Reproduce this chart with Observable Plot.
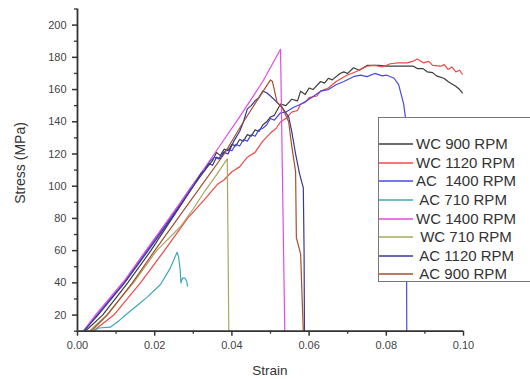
<!DOCTYPE html>
<html>
<head>
<meta charset="utf-8">
<script src="https://cdn.jsdelivr.net/npm/d3@7"></script>
<script src="https://cdn.jsdelivr.net/npm/@observablehq/plot@0.6"></script>
<style>
  html, body { margin: 0; padding: 0; background: #fff; overflow: hidden; }
  #wrap { position: relative; width: 530px; height: 379px; font-family: "Liberation Sans", Arial, sans-serif; }
  .lab { position: absolute; color: #333; white-space: nowrap; }
  #legend { position: absolute; left: 378px; top: 117px; width: 170px; height: 165px; border: 1.5px solid #777; background: #fff; box-sizing: border-box; }
  #legend svg { position: absolute; left: 0; top: 0; }
  #legend .tx { position: absolute; left: 37px; font-size: 15px; color: #333; white-space: pre; line-height: 18px; }
</style>
</head>
<body>
<div id="wrap"></div>
<script>
// ---- data ----
const seriesNames = ["WC 900 RPM", "WC 1120 RPM", "AC  1400 RPM", " AC 710 RPM", "WC 1400 RPM", " WC 710 RPM", " AC 1120 RPM", " AC 900 RPM"];
const seriesColors = ["#3c3c3c", "#f04848", "#4848e8", "#3aa8b8", "#e04ee0", "#a8a860", "#38389a", "#a4502e"];

const wc900 = [[0.002,10],[0.0065,20],[0.013,40],[0.019,60],[0.0245,80],[0.030,100],[0.033,110],[0.035,116],[0.036,121],[0.037,119],[0.038,123],[0.039,122],[0.040,126],[0.041,125],[0.042,129],[0.043,128],[0.044,132],[0.045,131],[0.046,135],[0.047,134],[0.048,138],[0.049,140],[0.050,143],[0.051,144],[0.0526,151],[0.054,150],[0.0555,154],[0.057,153],[0.0578,159],[0.059,157],[0.060,161],[0.061,160],[0.063,165],[0.064,164],[0.065,167],[0.066,166],[0.068,170],[0.069,171],[0.070,170],[0.0715,173.5],[0.073,172],[0.075,175],[0.078,175],[0.080,174.5],[0.083,174.5],[0.087,174.5],[0.088,173],[0.0895,173],[0.0906,171],[0.092,170.5],[0.093,168.5],[0.0949,167],[0.096,165],[0.097,163.5],[0.098,162],[0.099,160],[0.0997,158]];
const wc1120 = [[0.004,10],[0.0094,20],[0.0163,40],[0.0225,60],[0.0285,80],[0.033,92],[0.0362,101],[0.038,104],[0.040,109],[0.042,112],[0.044,118],[0.046,121],[0.048,128],[0.050,133],[0.0515,136],[0.0526,140],[0.054,142],[0.0555,146],[0.057,147],[0.0578,151],[0.059,152],[0.060,155],[0.062,156],[0.063,159],[0.065,161],[0.067,165],[0.0699,169],[0.071,170],[0.073,172],[0.075,174.5],[0.077,175],[0.079,174],[0.081,176],[0.083,176.5],[0.0854,176.6],[0.087,177.6],[0.088,179],[0.0896,176.6],[0.091,177.5],[0.092,175],[0.094,174.5],[0.095,175.5],[0.096,172.5],[0.097,174],[0.098,171],[0.099,172],[0.0997,169.5]];
const ac1400 = [[0.0016,10],[0.005,20],[0.012,40],[0.018,60],[0.024,80],[0.029,98],[0.032,108],[0.0345,116],[0.0355,118],[0.0365,117],[0.0378,121],[0.039,123],[0.040,122],[0.041,126],[0.042,125],[0.043,129],[0.044,128],[0.045,132],[0.046,131],[0.047,135],[0.048,136],[0.049,138],[0.050,142],[0.051,141],[0.0526,145.6],[0.054,146],[0.056,149],[0.058,151],[0.060,154],[0.063,159],[0.065,160],[0.067,163],[0.069,165],[0.0715,168],[0.0733,169],[0.075,168],[0.077,170],[0.079,168.5],[0.080,169],[0.082,167],[0.0832,163],[0.0845,151],[0.085,142],[0.0852,100],[0.0853,10]];
const ac710 = [[0.004,10],[0.0055,12],[0.0085,12.5],[0.011,17],[0.0129,21],[0.016,27],[0.018,31],[0.0215,39],[0.024,49],[0.0258,59],[0.0262,56],[0.0266,48],[0.0268,40],[0.0272,43],[0.0278,43],[0.0283,41],[0.0285,38]];
const wc1400 = [[0.0015,10],[0.005,21],[0.012,41],[0.018,61],[0.024,81],[0.030,101],[0.0323,109],[0.036,122],[0.042,143],[0.048,165],[0.0526,185],[0.0537,10]];
const wc710 = [[0.003,10],[0.0075,20],[0.0145,40],[0.0205,60],[0.0267,75],[0.030,86],[0.033,97],[0.036,107],[0.0388,117],[0.0392,10]];
const ac1120 = [[0.0016,10],[0.0053,20],[0.0122,40],[0.0183,60],[0.0243,80],[0.030,100],[0.0319,107.6],[0.033,110],[0.034,114],[0.035,113],[0.036,118],[0.037,117],[0.038,121],[0.039,120],[0.0405,128],[0.042,134],[0.043,140],[0.044,148],[0.045,150],[0.046,153],[0.047,155],[0.048,159],[0.049,158],[0.050,156],[0.0517,152],[0.053,149],[0.0547,143],[0.0555,134],[0.0565,120],[0.0575,108],[0.0585,99],[0.0587,60],[0.0588,10]];
const ac900 = [[0.0035,10],[0.0077,20],[0.0142,40],[0.020,60],[0.026,80],[0.032,100],[0.038,120],[0.043,140],[0.047,155],[0.050,166],[0.0505,165],[0.0517,152],[0.053,149],[0.0547,140],[0.0555,125],[0.0565,109],[0.0567,68],[0.0578,58],[0.0585,10]];

const seriesPoints = [wc900, wc1120, ac1400, ac710, wc1400, wc710, ac1120, ac900];

const xMajor = [0, 0.02, 0.04, 0.06, 0.08, 0.10];
const xMinor = [0.01, 0.03, 0.05, 0.07, 0.09];
const yMajor = [20, 40, 60, 80, 100, 120, 140, 160, 180, 200];
const yMinor = [10, 30, 50, 70, 90, 110, 130, 150, 170, 190, 210];

// ---- build ----
const rows = [];
seriesNames.forEach((n, i) => seriesPoints[i].forEach(([x, y]) => rows.push({name: n, x, y})));

const chart = Plot.plot({
  width: 530,
  height: 379,
  marginLeft: 77,
  marginRight: 67,
  marginTop: 8.5,
  marginBottom: 48.3,
  style: {fontFamily: "'Liberation Sans', Arial, sans-serif", fontSize: "11px", color: "#444", background: "transparent"},
  x: {domain: [0, 0.1]},
  y: {domain: [10, 210]},
  color: {domain: seriesNames, range: seriesColors},
  marks: [
    Plot.line(rows, {x: "x", y: "y", z: "name", stroke: "name", strokeWidth: 1.2}),
    Plot.axisX({ticks: xMajor, tickSize: 5, tickPadding: 5, tickFormat: d3.format(".2f"), label: null, strokeWidth: 1.5, stroke: "#333"}),
    Plot.axisX({ticks: xMinor, tickSize: 3, tickFormat: () => "", label: null, strokeWidth: 1.3, stroke: "#333"}),
    Plot.axisY({ticks: yMajor, tickSize: 5, tickPadding: 6, label: null, strokeWidth: 1.5, stroke: "#333"}),
    Plot.axisY({ticks: yMinor, tickSize: 3, tickFormat: () => "", label: null, strokeWidth: 1.3, stroke: "#333"}),
    Plot.ruleX([0], {stroke: "#333", strokeWidth: 1.8}),
    Plot.ruleY([10], {stroke: "#333", strokeWidth: 1.8})
  ]
});

const wrap = document.getElementById("wrap");
chart.style.position = "absolute";
chart.style.left = "0px";
chart.style.top = "0px";
wrap.appendChild(chart);

// axis titles
const yl = document.createElement("div");
yl.className = "lab";
yl.textContent = "Stress (MPa)";
yl.style.fontSize = "14px";
yl.style.left = "20px";
yl.style.top = "163px";
yl.style.transform = "translate(-50%, -50%) rotate(-90deg)";
wrap.appendChild(yl);

const xl = document.createElement("div");
xl.className = "lab";
xl.textContent = "Strain";
xl.style.fontSize = "13.5px";
xl.style.left = "270px";
xl.style.top = "370px";
xl.style.transform = "translate(-50%, -50%)";
wrap.appendChild(xl);

// legend
const lg = document.createElement("div");
lg.id = "legend";
const rowMid = [26, 45, 63, 82, 101, 119, 138, 156];
const ns = "http://www.w3.org/2000/svg";
const lsvg = document.createElementNS(ns, "svg");
lsvg.setAttribute("width", "40");
lsvg.setAttribute("height", "165");
seriesNames.forEach((n, i) => {
  const ln = document.createElementNS(ns, "line");
  ln.setAttribute("x1", "0");
  ln.setAttribute("x2", "34");
  ln.setAttribute("y1", rowMid[i]);
  ln.setAttribute("y2", rowMid[i]);
  ln.setAttribute("stroke", seriesColors[i]);
  ln.setAttribute("stroke-width", "1.5");
  lsvg.appendChild(ln);
  const tx = document.createElement("span");
  tx.className = "tx";
  tx.style.top = (rowMid[i] - 9) + "px";
  tx.textContent = n;
  lg.appendChild(tx);
});
lg.appendChild(lsvg);
wrap.appendChild(lg);
</script>
</body>
</html>
